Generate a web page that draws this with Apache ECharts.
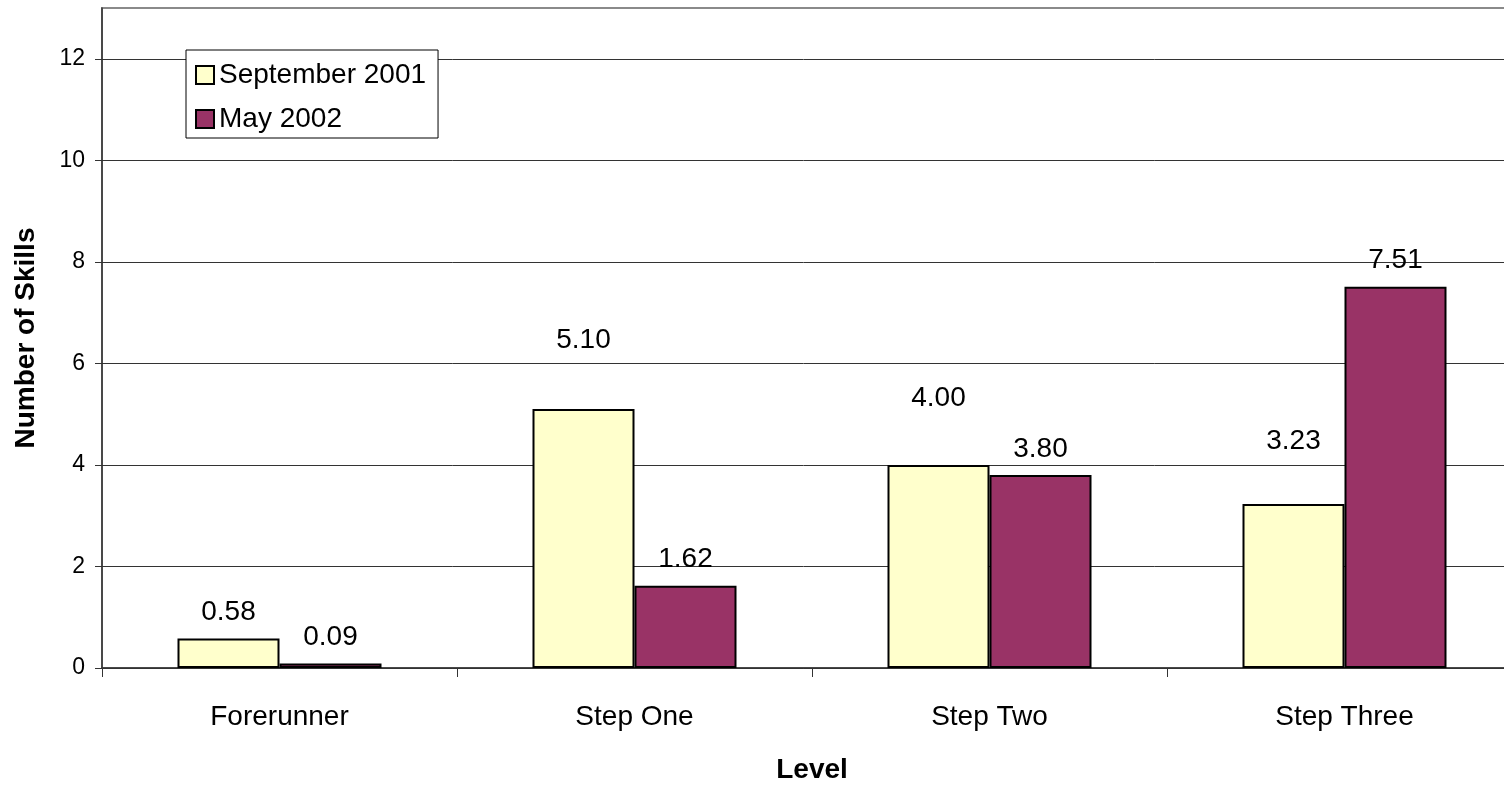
<!DOCTYPE html>
<html>
<head>
<meta charset="utf-8">
<script src="https://cdn.jsdelivr.net/npm/echarts@6/dist/echarts.min.js"></script>
<style>
html,body{margin:0;padding:0;background:#fff;}
#chart{width:1504px;height:786px;}
</style>
</head>
<body>
<div id="chart"></div>
<script>
// ---- data ----
const categories = ['Forerunner', 'Step One', 'Step Two', 'Step Three'];
const seriesNames = ['September 2001', 'May 2002'];
const sep2001 = [0.58, 5.10, 4.00, 3.23];
const may2002 = [0.09, 1.62, 3.80, 7.51];
const yTicks = [0, 2, 4, 6, 8, 10, 12];
const yMin = 0, yMax = 13, yInterval = 2;

// ---- chart ----
const FONT = '"Liberation Sans", Arial, sans-serif';
const chart = echarts.init(document.getElementById('chart'), null, {renderer: 'canvas'});

// label lift per bar (style only)
const sepLabelDist = [12, 55, 53, 49];
const mayLabelDist = [12, 12, 12, 12];

function build(vals, dists) {
  return vals.map((v, i) => ({value: v, label: {distance: dists[i]}}));
}

const labelCommon = {
  show: true,
  position: 'top',
  color: '#000',
  fontFamily: FONT,
  fontSize: 28,
  formatter: p => Number(p.value).toFixed(2)
};

chart.setOption({
  backgroundColor: '#fff',
  animation: false,
  textStyle: {fontFamily: FONT},
  grid: {
    left: 102, top: 8, width: 1420, height: 660,
    outerBoundsMode: 'none',
    show: true, borderColor: '#8a8a8a', borderWidth: 2, backgroundColor: '#fff',
    containLabel: false
  },
  legend: {
    orient: 'vertical',
    left: 186, top: 50,
    padding: [11, 12, 5, 9],
    itemGap: 16,
    itemWidth: 18, itemHeight: 18,
    icon: 'rect',
    backgroundColor: '#fff',
    borderColor: '#000', borderWidth: 1,
    textStyle: {fontFamily: FONT, fontSize: 28, color: '#000'},
    data: seriesNames
  },
  xAxis: {
    type: 'category',
    data: categories,
    name: 'Level',
    nameLocation: 'middle',
    nameGap: 88,
    nameTextStyle: {fontFamily: FONT, fontSize: 28, fontWeight: 'bold', color: '#000'},
    axisLine: {lineStyle: {color: '#333', width: 1.5}},
    axisTick: {show: true, length: 9, lineStyle: {color: '#333'}},
    axisLabel: {fontFamily: FONT, fontSize: 28, color: '#000', margin: 35, interval: 0},
    splitLine: {show: false}
  },
  yAxis: {
    type: 'value',
    min: yMin, max: yMax, interval: yInterval,
    name: 'Number of Skills',
    nameLocation: 'middle',
    nameRotate: 90,
    nameGap: 62,
    nameTextStyle: {fontFamily: FONT, fontSize: 28, fontWeight: 'bold', color: '#000'},
    axisLine: {show: true, lineStyle: {color: '#333', width: 1.5}},
    axisTick: {show: true, length: 7, customValues: yTicks, lineStyle: {color: '#333'}},
    axisLabel: {
      fontFamily: FONT, fontSize: 23, color: '#000', margin: 17,
      customValues: yTicks
    },
    splitLine: {show: true, showMinLine: true, showMaxLine: true, lineStyle: {color: '#333', width: 1}}
  },
  series: [
    {
      name: seriesNames[0],
      type: 'bar',
      barWidth: 102,
      barGap: '0%',
      itemStyle: {color: '#FFFFCC', borderColor: '#000', borderWidth: 2},
      label: labelCommon,
      data: build(sep2001, sepLabelDist)
    },
    {
      name: seriesNames[1],
      type: 'bar',
      barWidth: 102,
      barGap: '0%',
      itemStyle: {color: '#993366', borderColor: '#000', borderWidth: 2},
      label: labelCommon,
      data: build(may2002, mayLabelDist)
    }
  ]
});
</script>
</body>
</html>
